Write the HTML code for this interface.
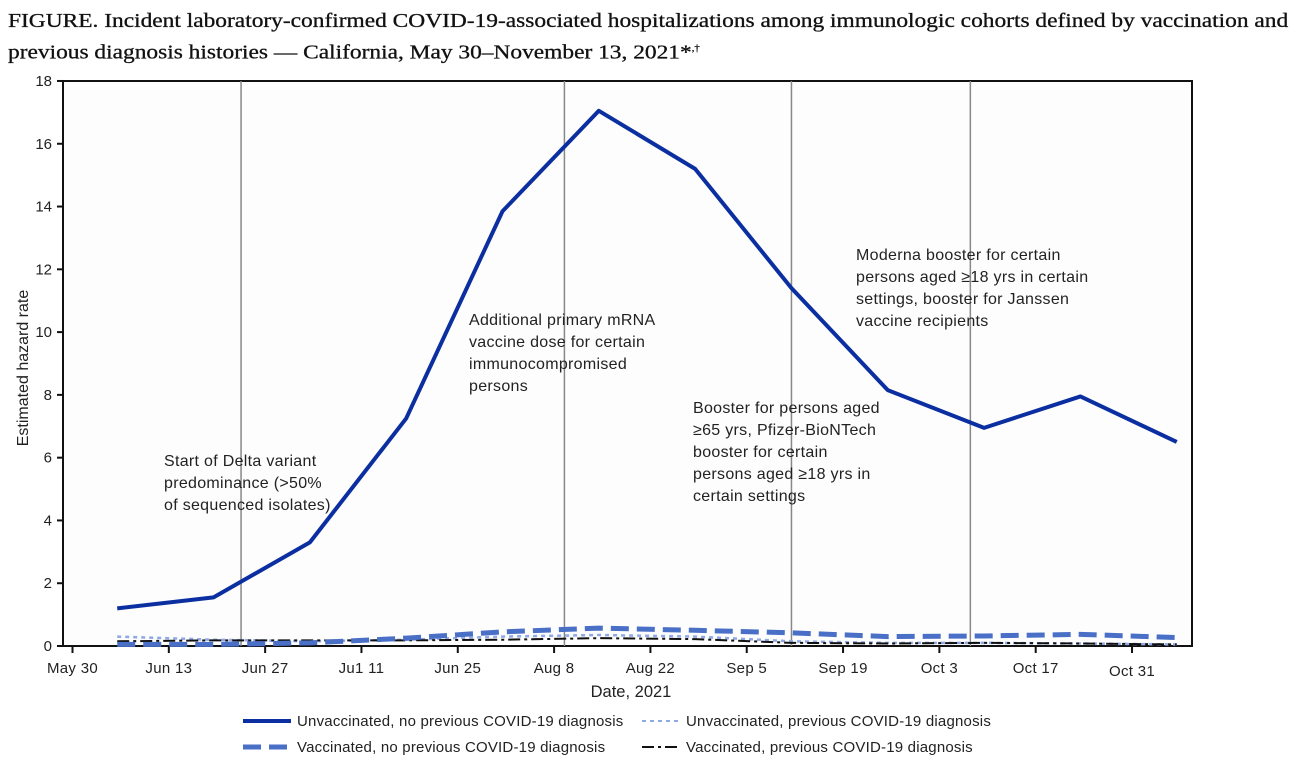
<!DOCTYPE html>
<html><head><meta charset="utf-8"><style>
body{margin:0;background:#fff;width:1295px;height:766px;overflow:hidden}
#title{position:absolute;left:8px;top:9px;font-family:"Liberation Serif",serif;font-size:19.5px;line-height:26px;color:#111;transform-origin:0 0;transform:scaleX(1.2);white-space:nowrap;-webkit-text-stroke:0.3px #111}
svg{position:absolute;left:0;top:0}
text{font-family:"Liberation Sans",sans-serif;fill:#222}
</style></head><body>
<div id="title">FIGURE. Incident laboratory-confirmed COVID-19-associated hospitalizations among immunologic cohorts defined by vaccination and<br>previous diagnosis histories — California, May 30–November 13, 2021*<sup style="font-size:9px">,†</sup></div>
<svg width="1295" height="766">
<rect x="63" y="81" width="1129" height="565" fill="#fcfdfc" stroke="#111" stroke-width="2"/>
<g id="vlines"></g><g id="axes"></g><g id="series"></g><g id="notes"></g><g id="legend"></g>
</svg>
<script>
const days=[6.5,20.5,34.5,48.5,62.5,76.5,90.5,104.5,118.5,132.5,146.5,160.5];
const unvaxNoPrev=[1.2,1.55,3.3,7.25,13.85,17.05,15.2,11.4,8.15,6.95,7.95,6.5];
const vaxNoPrev=[0.05,0.05,0.1,0.25,0.45,0.57,0.5,0.42,0.3,0.32,0.37,0.27];
const unvaxPrev=[0.3,0.2,0.15,0.2,0.3,0.35,0.3,0.15,0.1,0.1,0.08,0.05];
const vaxPrev=[0.15,0.18,0.18,0.18,0.2,0.25,0.22,0.1,0.08,0.1,0.08,0.05];
const xTickLabels=["May 30","Jun 13","Jun 27","Ju1 11","Jun 25","Aug 8","Aug 22","Sep 5","Sep 19","Oct 3","Oct 17","Oct 31"];
const yTicks=[0,2,4,6,8,10,12,14,16,18];
const eventDays=[24.5,71.5,104.5,130.5];
const NS="http://www.w3.org/2000/svg";
const X=d=>72.5+d*6.88, Y=v=>646-v*31.39;
function mk(t,a,p){const e=document.createElementNS(NS,t);for(const k in a)e.setAttribute(k,a[k]);p.appendChild(e);return e;}
const ax=document.getElementById('axes');
yTicks.forEach(v=>{const l=mk('line',{x1:57,x2:63,y1:Y(v),y2:Y(v),stroke:'#111','stroke-width':2},ax);


const t=mk('text',{x:52,y:Y(v)+5,'text-anchor':'end','font-size':15},ax);t.textContent=v;

});
xTickLabels.forEach((s,i)=>{const x=X(i*14);const l=mk('line',{x1:x,x2:x,y1:646,y2:653,stroke:'#111','stroke-width':2},ax);


const t=mk('text',{x:x,y:673+(i==11?3:0),'text-anchor':'middle','font-size':15,'letter-spacing':0.3},ax);t.textContent=s;

});
let t=mk('text',{x:631,y:697,'text-anchor':'middle','font-size':16.5},ax);t.textContent='Date, 2021';


t=mk('text',{x:0,y:0,'text-anchor':'middle','font-size':16,transform:'translate(28,368) rotate(-90)'},ax);t.textContent='Estimated hazard rate';


const vl=document.getElementById('vlines');
eventDays.forEach(d=>{const l=mk('line',{x1:X(d),x2:X(d),y1:81,y2:646,stroke:'#888','stroke-width':1.5},vl);

});
const sg=document.getElementById('series');
function series(vals,style,name){const pts=vals.map((v,i)=>X(days[i])+','+Y(v)).join(' ');
const p=mk('polyline',Object.assign({points:pts,fill:'none'},style),sg);

}
series(unvaxPrev,{stroke:'#8fa8e6','stroke-width':2.5,'stroke-dasharray':'4 4'},'unvaccinated-previous-line');
series(vaxPrev,{stroke:'#111','stroke-width':2,'stroke-dasharray':'12 4 3 4'},'vaccinated-previous-line');
series(vaxNoPrev,{stroke:'#4a6fc7','stroke-width':5,'stroke-dasharray':'18 8'},'vaccinated-no-previous-line');
series(unvaxNoPrev,{stroke:'#0b2fa0','stroke-width':4,'stroke-linejoin':'round'},'unvaccinated-no-previous-line');
const notes=[[164,466,["Start of Delta variant","predominance (>50%","of sequenced isolates)"]],
[469,325,["Additional primary mRNA","vaccine dose for certain","immunocompromised","persons"]],
[693,413,["Booster for persons aged","≥65 yrs, Pfizer-BioNTech","booster for certain","persons aged ≥18 yrs in","certain settings"]],
[856,260,["Moderna booster for certain","persons aged ≥18 yrs in certain","settings, booster for Janssen","vaccine recipients"]]];
const ng=document.getElementById('notes');
notes.forEach(n=>{const t=mk('text',{x:n[0],y:n[1],'font-size':16,'letter-spacing':0.3},ng);


n[2].forEach((s,i)=>{const ts=mk('tspan',{x:n[0],dy:i?22:0},t);ts.textContent=s;});});
const lg=document.getElementById('legend');
const items=[[243,291,297,721,{stroke:'#0b2fa0','stroke-width':4},"Unvaccinated, no previous COVID-19 diagnosis"],
[642,680,686,721,{stroke:'#8fa8e6','stroke-width':2,'stroke-dasharray':'4 4'},"Unvaccinated, previous COVID-19 diagnosis"],
[243,291,297,747,{stroke:'#4a6fc7','stroke-width':5,'stroke-dasharray':'18 8'},"Vaccinated, no previous COVID-19 diagnosis"],
[642,680,686,747,{stroke:'#111','stroke-width':2,'stroke-dasharray':'12 4 3 4'},"Vaccinated, previous COVID-19 diagnosis"]];
items.forEach(it=>{const l=mk('line',Object.assign({x1:it[0],x2:it[1],y1:it[3],y2:it[3]},it[4]),lg);


const t=mk('text',{x:it[2],y:it[3]+5,'font-size':15,'letter-spacing':0.2},lg);t.textContent=it[5];

});
</script>
</body></html>
